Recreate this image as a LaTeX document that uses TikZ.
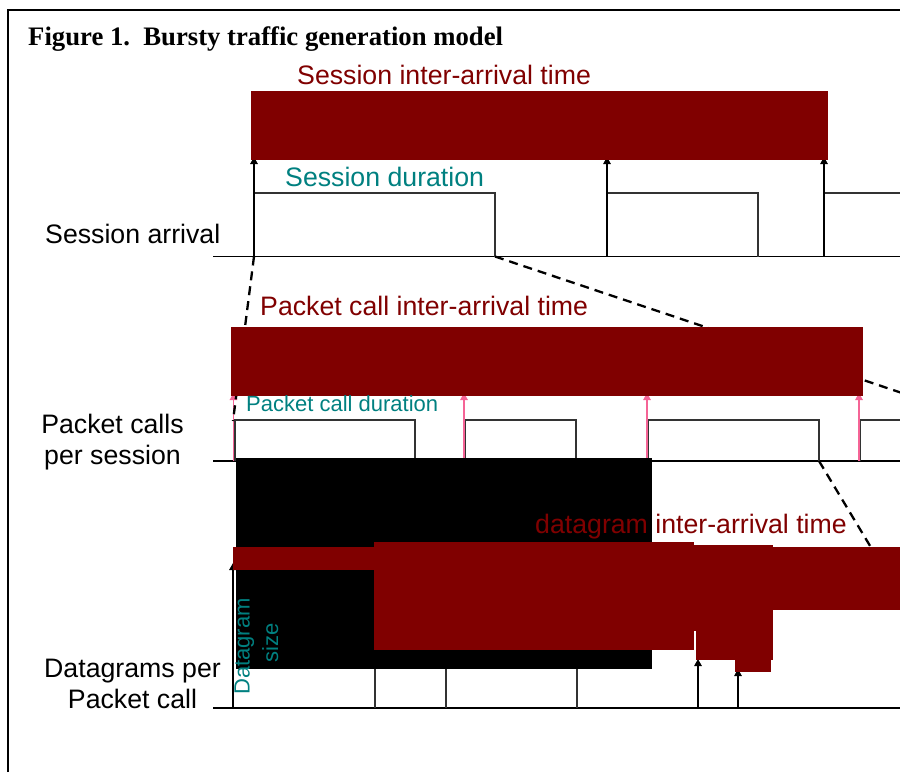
\documentclass[tikz,border=0pt]{standalone}
\usepackage{fontspec}
\setmainfont{Liberation Sans}
\newfontfamily\titlefont{Liberation Serif}
\usetikzlibrary{arrows.meta}
\definecolor{dred}{RGB}{128,0,0}
\definecolor{tealtxt}{RGB}{0,128,128}
\definecolor{pinkarr}{RGB}{245,100,150}
\begin{document}
\begin{tikzpicture}[x=1pt,y=-1pt,
  bigtxt/.style={inner sep=0pt,font=\fontsize{26.7}{31}\selectfont},
  smalltxt/.style={inner sep=0pt,font=\fontsize{22}{27}\selectfont},
  axisline/.style={line width=1.5pt,black},
  pulse/.style={line width=1.3pt,black!80},
  uparrow/.style={line width=1.3pt,black,-{Triangle[width=7.5pt,length=7pt]}},
  pinkarrow/.style={line width=1.3pt,pinkarr,-{Triangle[width=7.5pt,length=7pt]}},
  zoomline/.style={line width=2.3pt,black,dash pattern=on 9pt off 6pt},
  redblock/.style={fill=dred,draw=none},
  blackblock/.style={fill=black,draw=none}]
\useasboundingbox (0,0) rectangle (900,772);
% frame
\coordinate (fTL) at (8,10);
\coordinate (fTR) at (900,10);
\coordinate (fBL) at (8,772);
\draw[line width=2pt] (fBL) -- (fTL) -- (fTR);
\node[inner sep=0pt,anchor=base west,font=\titlefont\bfseries\fontsize{26.7}{31}\selectfont] (title) at (28,45) {Figure 1.\ \ Bursty traffic generation model};

% ---------- session row ----------
\coordinate (sA0) at (213,256.5);
\coordinate (sA1) at (900,256.5);
\draw[axisline] (sA0) -- (sA1);
\coordinate (s1) at (254,256.5);
\coordinate (s1e) at (495,256.5);
\coordinate (s2) at (607,256.5);
\coordinate (s2e) at (758,256.5);
\coordinate (s3) at (824,256.5);
\draw[pulse] (s1) -- (254,193) -- (495,193) -- (s1e);
\draw[pulse] (s2) -- (607,193) -- (758,193) -- (s2e);
\draw[pulse] (s3) -- (824,193) -- (902,193);
\coordinate (s1t) at (254,157);
\coordinate (s2t) at (607,157);
\coordinate (s3t) at (824,157);
\draw[uparrow] (s1) -- (s1t);
\draw[uparrow] (s2) -- (s2t);
\draw[uparrow] (s3) -- (s3t);

% ---------- packet call row ----------
\coordinate (pA0) at (213,461);
\coordinate (pA1) at (900,461);
\draw[axisline] (pA0) -- (pA1);
\coordinate (p1) at (235,461);
\coordinate (p1e) at (415,461);
\coordinate (p2) at (465,461);
\coordinate (p2e) at (576,461);
\coordinate (p3) at (648,461);
\coordinate (p3e) at (819,461);
\coordinate (p4) at (860,461);
\draw[pulse] (p1) -- (235,420) -- (415,420) -- (p1e);
\draw[pulse] (p2) -- (465,420) -- (576,420) -- (p2e);
\draw[pulse] (p3) -- (648,420) -- (819,420) -- (p3e);
\draw[pulse] (p4) -- (860,420) -- (902,420);
\coordinate (q1) at (233.5,461);
\coordinate (q2) at (464,461);
\coordinate (q3) at (647,461);
\coordinate (q4) at (859,461);
\draw[pinkarrow] (q1) -- (233.5,393);
\draw[pinkarrow] (q2) -- (464,393);
\draw[pinkarrow] (q3) -- (647,393);
\draw[pinkarrow] (q4) -- (859,393);

% zoom (dashed) lines
\coordinate (z1e) at (233,421);
\coordinate (z2e) at (905,394);
\coordinate (z3e) at (905,604);
\draw[zoomline] (s1) -- (z1e);
\draw[zoomline] (s1e) -- (z2e);
\draw[zoomline] (p3e) -- (z3e);

% ---------- datagram row ----------
\coordinate (dA0) at (213,708);
\coordinate (dA1) at (900,708);
\draw[axisline] (dA0) -- (dA1);
\coordinate (d1) at (233,708);
\coordinate (d2) at (375,708);
\coordinate (d3) at (446,708);
\coordinate (d4) at (577,708);
\coordinate (d5) at (698,708);
\coordinate (d6) at (738,708);
\draw[pulse] (d2) -- (375,640);
\draw[pulse] (d3) -- (446,640);
\draw[pulse] (d4) -- (577,640);
\draw[uparrow] (d1) -- (233,563);
\draw[uparrow] (d5) -- (698,659);
\draw[uparrow] (d6) -- (738,669);

% ---------- solid blocks ----------
\fill[blackblock] (236,458) rectangle (652,669);
\fill[redblock] (251,91) rectangle (828,160);
\fill[redblock] (231,327) rectangle (863,396);
\fill[redblock] (232.5,547) rectangle (380,570);
\fill[redblock] (374,542) rectangle (694,650);
\fill[redblock] (693,545) rectangle (697,631);
\fill[redblock] (696,545) rectangle (773,660);
\fill[redblock] (735,650) rectangle (771,672);
\fill[redblock] (772,547) rectangle (900,610);

% ---------- texts ----------
\node[bigtxt,anchor=base west,text=dred] (sia) at (297,84.5) {Session inter-arrival time};
\node[bigtxt,anchor=base west,text=tealtxt] (sdur) at (285,186.7) {Session duration};
\node[bigtxt,anchor=base west] (sarr) at (45,243.5) {Session arrival};
\node[bigtxt,anchor=base west,text=dred] (pia) at (260,315) {Packet call inter-arrival time};
\node[smalltxt,anchor=base west,text=tealtxt] (pdur) at (246,411.5) {Packet call duration};
\node[bigtxt,anchor=base] (pcs1) at (112.5,433.3) {Packet calls};
\node[bigtxt,anchor=base] (pcs2) at (112.5,464.3) {per session};
\node[bigtxt,anchor=base west,text=dred] (dia) at (535,533.3) {datagram inter-arrival time};
\node[bigtxt,anchor=base] (dpp1) at (132.5,677) {Datagrams per};
\node[bigtxt,anchor=base] (dpp2) at (132.5,708.3) {Packet call};
\node[smalltxt,anchor=base,rotate=90,text=tealtxt] (dsz1) at (249.5,646.5) {Datagram};
\node[smalltxt,anchor=base,rotate=90,text=tealtxt] (dsz2) at (278,642.5) {size};
\end{tikzpicture}
\end{document}
